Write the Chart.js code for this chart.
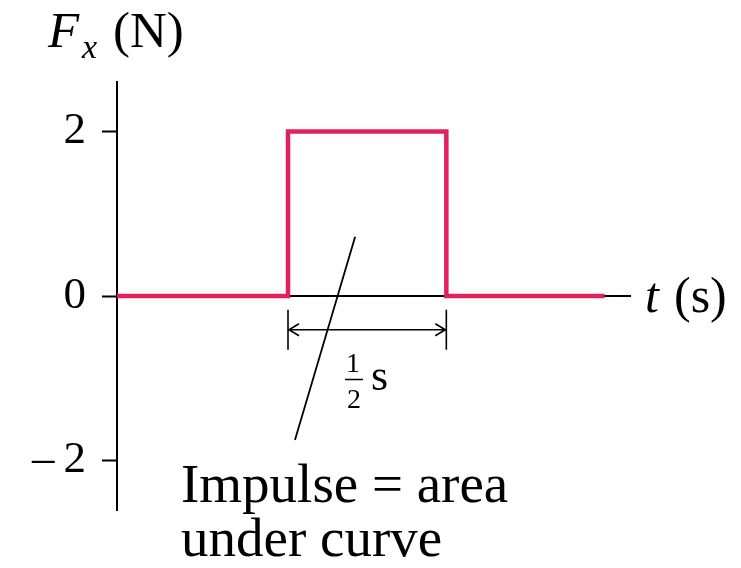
<!DOCTYPE html>
<html>
<head>
<meta charset="utf-8">
<script src="https://cdn.jsdelivr.net/npm/chart.js@4"></script>
<style>
  html, body { margin: 0; padding: 0; background: #fff; }
  #wrap { width: 741px; height: 568px; }
</style>
</head>
<body>
<div id="wrap"><canvas id="impulse"></canvas></div>
<script>
// pulse: F = 2 N for half a second
const timeS = [0, 0.54, 0.54, 1.04, 1.04, 1.54];
const forceN = [0, 0, 2, 2, 0, 0];
const yTicks = [-2, 0, 2];
const pulseStart = 0.54;
const pulseEnd = 1.04;

const serif = "'Liberation Serif', 'Times New Roman', serif";
const pink = '#e2215b';

const annotations = {
    id: 'annotations',
    afterDraw(chart) {
        const ctx = chart.ctx;
        const xs = chart.scales.x;
        const ys = chart.scales.y;
        const x0 = xs.getPixelForValue(pulseStart);
        const x1 = xs.getPixelForValue(pulseEnd);
        const yDim = ys.getPixelForValue(-0.41);

        ctx.save();
        ctx.strokeStyle = '#000';
        ctx.fillStyle = '#000';

        // width marker with arrows
        ctx.lineWidth = 1.6;
        ctx.beginPath();
        ctx.moveTo(x0, yDim - 20); ctx.lineTo(x0, yDim + 20);
        ctx.moveTo(x1, yDim - 20); ctx.lineTo(x1, yDim + 20);
        ctx.moveTo(x0 + 1, yDim); ctx.lineTo(x1 - 1, yDim);
        ctx.moveTo(x0 + 11, yDim - 6); ctx.lineTo(x0 + 1, yDim); ctx.lineTo(x0 + 11, yDim + 6);
        ctx.moveTo(x1 - 11, yDim - 6); ctx.lineTo(x1 - 1, yDim); ctx.lineTo(x1 - 11, yDim + 6);
        ctx.stroke();

        // leader line from the area to the caption
        ctx.lineWidth = 1.8;
        ctx.beginPath();
        ctx.moveTo(xs.getPixelForValue(0.752), ys.getPixelForValue(0.72));
        ctx.lineTo(xs.getPixelForValue(0.562), ys.getPixelForValue(-1.75));
        ctx.stroke();

        // 1/2 s
        ctx.textAlign = 'center';
        ctx.textBaseline = 'alphabetic';
        ctx.font = '28px ' + serif;
        ctx.fillText('1', 353, 372);
        ctx.fillText('2', 354, 408);
        ctx.lineWidth = 1.5;
        ctx.beginPath();
        ctx.moveTo(345, 379.5); ctx.lineTo(363, 379.5);
        ctx.stroke();
        ctx.textAlign = 'left';
        ctx.font = '44px ' + serif;
        ctx.fillText('s', 371, 390);

        // caption
        ctx.font = '55px ' + serif;
        ctx.fillText('Impulse = area', 181, 502);
        ctx.fillText('under curve', 181, 556);

        // axis titles
        ctx.font = 'italic 51px ' + serif;
        ctx.fillText('F', 48, 47);
        ctx.font = 'italic 34px ' + serif;
        ctx.fillText('x', 82, 58);
        ctx.font = '51px ' + serif;
        ctx.fillText('(N)', 113, 47);

        const yZero = ys.getPixelForValue(0);
        ctx.font = 'italic 50px ' + serif;
        ctx.fillText('t', 645, yZero + 16);
        ctx.font = '50px ' + serif;
        ctx.fillText('(s)', 674, yZero + 16);
        ctx.restore();
    }
};

new Chart(document.getElementById('impulse'), {
    type: 'line',
    data: {
        datasets: [{
            data: timeS.map((t, i) => ({ x: t, y: forceN[i] })),
            borderColor: pink,
            borderWidth: 4.5,
            pointRadius: 0,
            fill: false,
            tension: 0,
            borderJoinStyle: 'miter',
            borderCapStyle: 'butt'
        }]
    },
    options: {
        responsive: true,
        maintainAspectRatio: false,
        animation: false,
        layout: { padding: { left: 0, top: 82, right: 111, bottom: 58 } },
        plugins: {
            legend: { display: false },
            tooltip: { enabled: false }
        },
        scales: {
            x: {
                type: 'linear',
                min: 0,
                max: 1.62,
                position: { y: 0 },
                ticks: { display: false },
                grid: { display: false, drawTicks: false },
                border: { color: '#000', width: 2 }
            },
            y: {
                min: -2.6,
                max: 2.6,
                afterBuildTicks: scale => { scale.ticks = yTicks.map(v => ({ value: v })); },
                afterFit: scale => { scale.width = 117; },
                ticks: {
                    color: '#000',
                    padding: 16,
                    font: { family: serif, size: 45 },
                    callback: v => v < 0 ? '\u2013\u2009' + Math.abs(v) : String(v)
                },
                grid: {
                    drawOnChartArea: false,
                    drawTicks: true,
                    tickLength: 15,
                    tickColor: '#000',
                    tickWidth: 2
                },
                border: { color: '#000', width: 2 }
            }
        }
    },
    plugins: [annotations]
});
</script>
</body>
</html>
